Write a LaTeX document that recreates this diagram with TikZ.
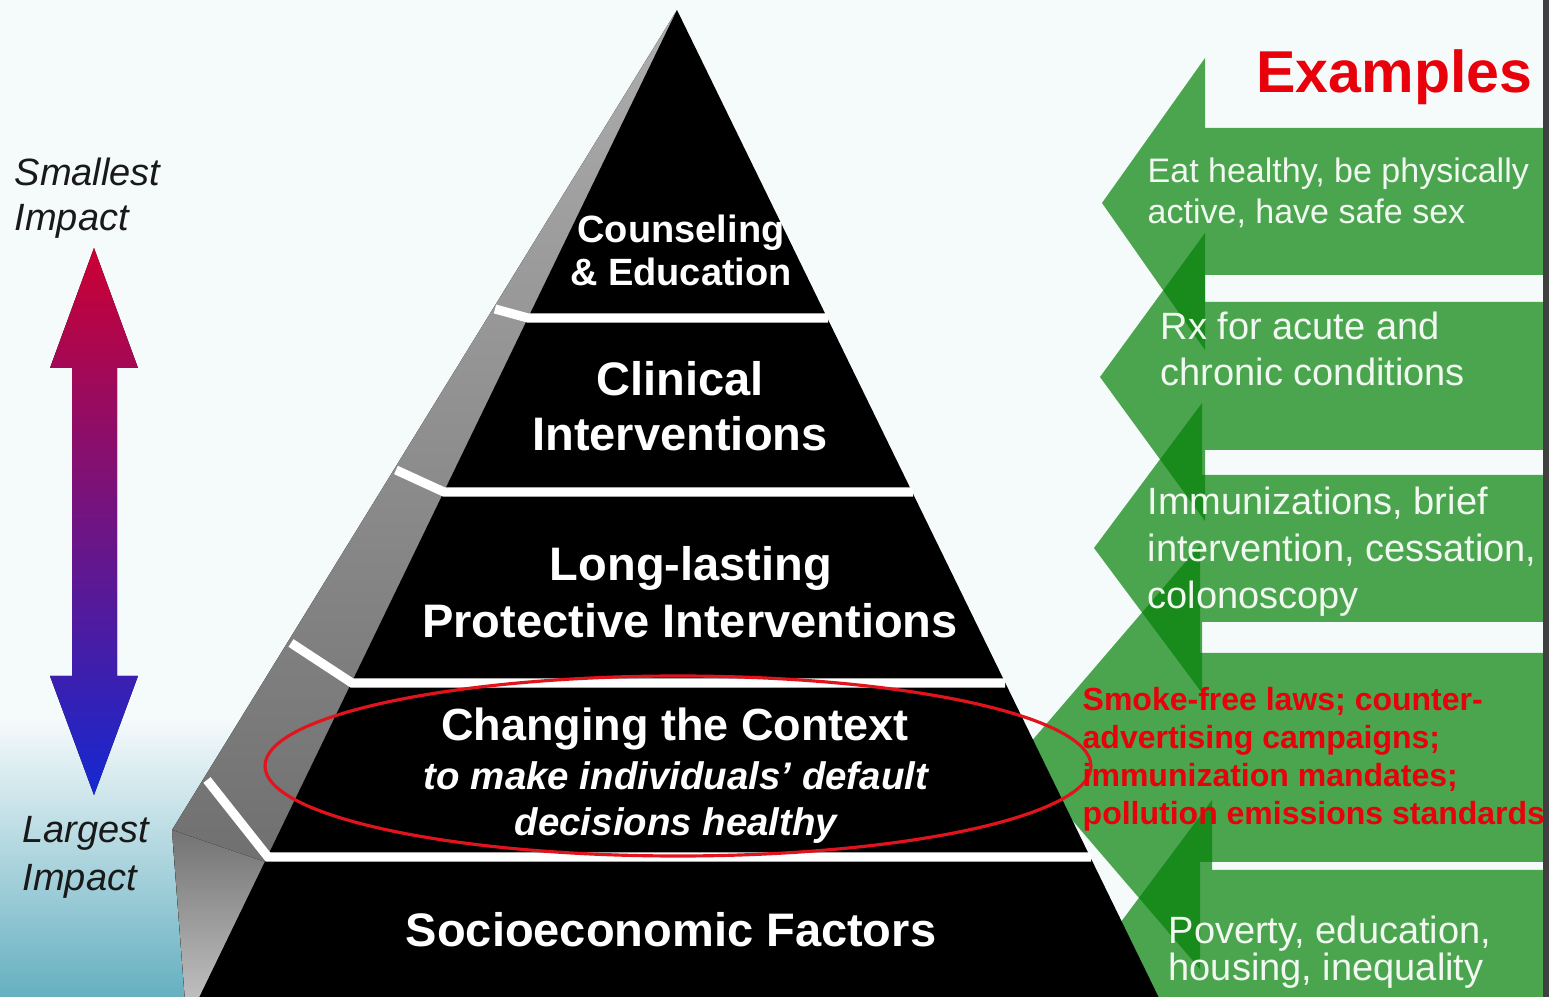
\documentclass[tikz,border=0pt]{standalone}
\usepackage{fontspec}
\setmainfont{Liberation Sans}
\definecolor{bg}{RGB}{245,250,251}
\definecolor{tealbg}{RGB}{100,175,192}
\definecolor{grn}{RGB}{4,129,7}
\definecolor{txtw}{RGB}{240,248,240}
\definecolor{redt}{RGB}{232,0,10}
\definecolor{arrR}{RGB}{204,0,51}
\definecolor{arrM}{RGB}{115,30,125}
\definecolor{arrB}{RGB}{20,40,210}
\definecolor{ellred}{RGB}{225,20,30}
\newcommand\fsz[1]{\fontsize{#1}{#1}\selectfont}
\tikzset{
  pyr/.style={text=white, inner sep=0pt, anchor=base},
  side/.style={text=black!90, inner sep=0pt, anchor=base west, font=\itshape\fsz{10.81pt}},
  gtxt/.style={text=txtw, inner sep=0pt, anchor=base west},
  rtxt/.style={text=redt, inner sep=0pt, anchor=base west, font=\bfseries\fsz{9.1pt}},
  band/.style={fill=grn, fill opacity=0.7},
  cut/.style={white, line width=2.6pt},
}
\begin{document}
\begin{tikzpicture}[x=0.01cm,y=-0.01cm]
\clip (0,0) rectangle (1553,997);
% background
\fill[bg] (0,0) rectangle (1553,997);
\shade[top color=bg, middle color=bg!85!tealbg, bottom color=tealbg] (0,720) rectangle (420,1000);
% green example bands (left-pointing arrows)
\fill[band] (1543,128) -- (1205,128) -- (1205,58) -- (1102,203) -- (1205,350) -- (1205,275) -- (1543,275) -- cycle;
\fill[band] (1543,302) -- (1205,302) -- (1205,233) -- (1100,377) -- (1205,521) -- (1205,450) -- (1543,450) -- cycle;
\fill[band] (1543,475) -- (1202,475) -- (1202,403) -- (1094,548) -- (1202,693) -- (1202,622) -- (1543,622) -- cycle;
\fill[band] (1543,653) -- (1200,653) -- (1200,545) -- (1018,757) -- (1200,969) -- (1200,862) -- (1543,862) -- cycle;
\fill[band] (1543,870) -- (1212,870) -- (1212,800) -- (1100,950) -- (1212,1100) -- (1212,1030) -- (1543,1030) -- cycle;
% right border
\fill[black!75] (1543,0) rectangle (1549,997);
\fill[white] (1549,0) rectangle (1553,997);
% pyramid
\fill[top color=black!32, bottom color=black!60] (677,10) -- (172,830) -- (185,1000) -- (205,1000) -- cycle;
\fill[top color=black!55, bottom color=black!25] (172,830) -- (265,862) -- (198,1000) -- (185,1000) -- cycle;
\fill[black] (677,10) -- (1160,1000) -- (198,1000) -- cycle;
% tier separators
\draw[cut] (495,309) -- (528,318) -- (828,318);
\draw[cut] (396,470) -- (444,492) -- (913,492);
\draw[cut] (291,643) -- (352,683) -- (1005,683);
\draw[cut] (207,780) -- (268,857) -- (1091,857);
% red ellipse
\draw[ellred, line width=0.9pt] (678,766) ellipse (413 and 90);
% impact arrow
\fill[top color=arrR, middle color=arrM, bottom color=arrB]
  (94,248) -- (138,368) -- (117,368) -- (117,676) -- (138,676) -- (94,795)
  -- (50,676) -- (72,676) -- (72,368) -- (50,368) -- cycle;
% side labels
\node[side] (sm1) at (14,186) {Smallest};
\node[side] (sm2) at (14,231) {Impact};
\node[side] (lg1) at (22,843) {Largest};
\node[side] (lg2) at (22,890) {Impact};
% pyramid labels
\node[pyr, font=\bfseries\fsz{10.81pt}] (ce1) at (681,243) {Counseling};
\node[pyr, font=\bfseries\fsz{10.81pt}] (ce2) at (681,286) {\& Education};
\node[pyr, font=\bfseries\fsz{13.37pt}] (ci1) at (680,396) {Clinical};
\node[pyr, font=\bfseries\fsz{13.37pt}] (ci2) at (680,451) {Interventions};
\node[pyr, font=\bfseries\fsz{13.37pt}] (lp1) at (691,581) {Long-lasting};
\node[pyr, font=\bfseries\fsz{13.37pt}] (lp2) at (690,638) {Protective Interventions};
\node[pyr, font=\bfseries\fsz{12.8pt}] (cc1) at (675,741) {Changing the Context};
\node[pyr, font=\bfseries\itshape\fsz{10.93pt}] (cc2) at (676,790) {to make individuals' default};
\node[pyr, font=\bfseries\itshape\fsz{10.93pt}] (cc3) at (676,836) {decisions healthy};
\node[pyr, font=\bfseries\fsz{13.37pt}] (se) at (671,946) {Socioeconomic Factors};
% examples
\node[anchor=base east, inner sep=0pt, text=redt, font=\bfseries\fsz{16.8pt}] (ex) at (1533,93) {Examples};
\node[gtxt, font=\fsz{9.67pt}] (g1a) at (1147,183) {Eat healthy, be physically};
\node[gtxt, font=\fsz{9.67pt}] (g1b) at (1147,224) {active, have safe sex};
\node[gtxt, font=\fsz{10.81pt}] (g2a) at (1160,340) {Rx for acute and};
\node[gtxt, font=\fsz{10.81pt}] (g2b) at (1160,386) {chronic conditions};
\node[gtxt, font=\fsz{10.81pt}] (g3a) at (1147,515) {Immunizations, brief};
\node[gtxt, font=\fsz{10.81pt}] (g3b) at (1147,562) {intervention, cessation,};
\node[gtxt, font=\fsz{10.81pt}] (g3c) at (1147,609) {colonoscopy};
\node[rtxt] (r1) at (1082,711) {Smoke-free laws; counter-};
\node[rtxt] (r2) at (1082,749) {advertising campaigns;};
\node[rtxt] (r3) at (1082,787) {immunization mandates;};
\node[rtxt] (r4) at (1082,825) {pollution emissions standards};
\node[gtxt, font=\fsz{10.81pt}] (g5a) at (1168,943) {Poverty, education,};
\node[gtxt, font=\fsz{10.81pt}] (g5b) at (1168,981) {housing, inequality};
\end{tikzpicture}
\end{document}
